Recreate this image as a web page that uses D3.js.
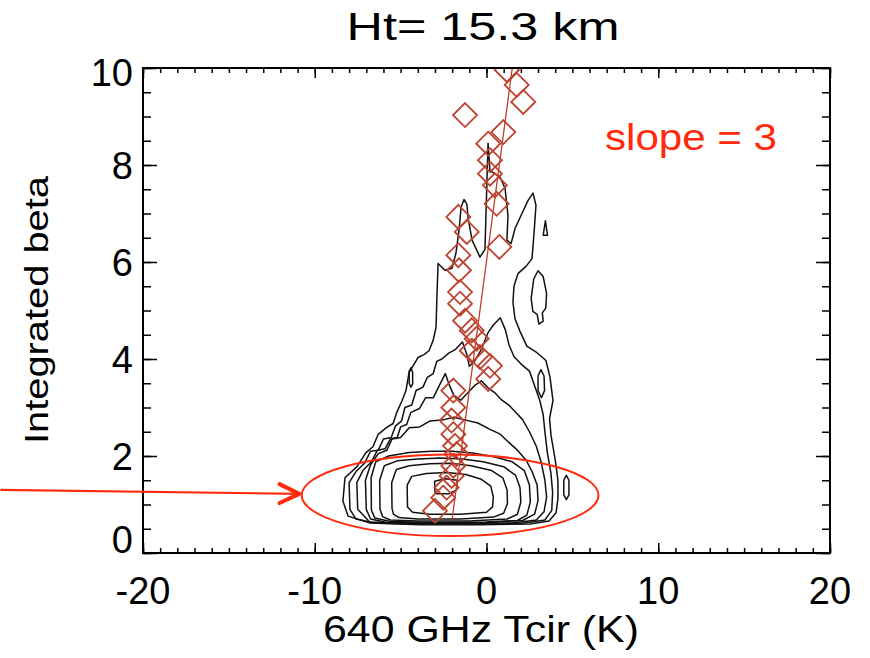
<!DOCTYPE html>
<html>
<head>
<meta charset="utf-8">
<style>
  body { margin: 0; background: #fff; }
  svg { display: block; font-family: "Liberation Sans", Arial, Helvetica, sans-serif; }
</style>
</head>
<body>
<div id="chart"></div>
<script src="https://cdn.jsdelivr.net/npm/d3@7/dist/d3.min.js"></script>
<script>
// ---- data ----
var title = "Ht= 15.3 km";
var xTitle = "640 GHz Tcir (K)";
var yTitle = "Integrated beta";
var slopeText = "slope = 3";

var xTicks = [-20, -10, 0, 10, 20];
var yTicks = [0, 2, 4, 6, 8, 10];

// diamonds: 640 GHz Tcir vs integrated beta
var pointsX = [1.18, 1.76, 2.14, -1.25, 0.98, 0.10, 0.20, 0.20, 0.49, 0.59, -1.64, -1.15, 0.75, -1.64, -1.60, -1.54, -1.54, -1.25, -0.86, -0.57, -0.86, -0.38, 0.20, 0.10, -1.93, -1.93, -2.03, -1.93, -1.83, -1.74, -1.93, -2.03, -2.32, -2.52, -3.00];
var pointsY = [9.96, 9.65, 9.30, 9.03, 8.68, 8.44, 8.10, 7.82, 7.58, 7.20, 6.93, 6.62, 6.31, 6.14, 5.83, 5.38, 5.14, 4.79, 4.59, 4.42, 4.17, 4.04, 3.86, 3.59, 3.35, 3.00, 2.73, 2.45, 2.21, 2.04, 1.80, 1.59, 1.35, 1.14, 0.87];

// fitted line (two end points)
var fitX = [-2.0, 1.5];
var fitY = [0.7, 10];

// contours of the 2D histogram, outer to inner
var contour1 = [[-8.06,0.76],[-8.36,1.07],[-8.24,1.55],[-7.54,1.78],[-7.02,2.07],[-6.61,2.19],[-6.32,2.44],[-5.85,2.58],[-5.44,2.67],[-5.21,2.91],[-4.92,3.14],[-4.69,3.35],[-4.51,3.72],[-3.99,4.03],[-3.64,4.09],[-3.35,4.17],[-3.11,4.38],[-2.94,4.65],[-2.88,5.35],[-2.82,5.97],[-2.42,5.83],[-2.01,5.87],[-1.78,6.18],[-1.6,6.65],[-1.48,7.13],[-1.31,7.29],[-1.14,7.19],[-1.08,6.92],[-0.84,6.45],[-0.38,6.1],[-0.09,6.26],[0.09,8.45],[0.2,7.89],[0.79,7.75],[1.08,7.52],[1.25,6.96],[1.19,6.45],[1.43,6.38],[1.66,6.69],[2.01,6.96],[2.42,7.27],[2.71,7.42],[2.88,7.17],[2.77,6.61],[2.65,6.07],[2.3,5.91],[1.83,5.76],[1.6,5.5],[1.54,5.17],[1.66,4.83],[1.95,4.57],[2.36,4.26],[2.94,4.13],[3.46,3.97],[3.7,3.62],[3.87,3.14],[3.67,2.77],[3.76,2.42],[3.93,2.07],[4.05,1.8],[4.16,1.49],[4.16,1.12],[4.05,0.83],[3.64,0.66],[2.53,0.6],[-0.38,0.58],[-3.87,0.58],[-6.78,0.62]];
var contour2 = [[-7.95,0.9],[-8.0,1.45],[-7.6,1.68],[-7.1,1.85],[-6.75,2.1],[-6.3,2.12],[-6.0,2.35],[-5.55,2.38],[-5.3,2.62],[-4.95,2.72],[-4.75,3.0],[-4.35,3.05],[-4.1,3.35],[-3.7,3.42],[-3.45,3.62],[-3.1,3.7],[-2.9,3.95],[-2.6,4.0],[-2.2,4.12],[-1.8,4.2],[-1.4,4.35],[-1.15,4.1],[-1.0,3.85],[-0.7,3.95],[-0.3,4.2],[0.1,4.55],[0.4,4.7],[0.8,4.85],[1.1,4.6],[1.3,4.3],[1.6,4.05],[2.0,3.9],[2.5,3.75],[2.8,3.45],[3.1,3.15],[3.3,2.85],[3.4,2.5],[3.55,2.05],[3.75,1.65],[3.85,1.25],[3.8,0.88],[3.4,0.68],[2.0,0.61],[-1.0,0.6],[-4.0,0.6],[-6.5,0.62],[-7.6,0.7]];
var contour3 = [[-7.5,0.9],[-7.55,1.45],[-7.2,1.7],[-6.7,1.88],[-6.35,2.12],[-5.9,2.15],[-5.6,2.35],[-5.2,2.38],[-5.0,2.6],[-4.65,2.65],[-4.4,2.9],[-3.9,2.98],[-3.55,3.2],[-3.1,3.2],[-2.75,3.45],[-2.4,3.7],[-2.15,3.45],[-1.9,3.25],[-1.5,3.15],[-1.1,3.3],[-0.7,3.45],[-0.3,3.55],[0.1,3.4],[0.5,3.3],[0.9,3.15],[1.3,3.05],[1.7,2.9],[2.1,2.75],[2.5,2.5],[2.9,2.2],[3.2,1.85],[3.4,1.5],[3.5,1.15],[3.35,0.85],[2.9,0.68],[1.5,0.62],[-1.5,0.61],[-4.5,0.61],[-6.8,0.64]];
var contour4 = [[-7.0,0.9],[-7.05,1.5],[-6.75,1.82],[-6.3,2.05],[-5.8,2.12],[-5.5,2.35],[-5.0,2.38],[-4.5,2.58],[-3.9,2.6],[-3.3,2.72],[-2.6,2.74],[-1.9,2.8],[-1.2,2.74],[-0.5,2.68],[0.2,2.55],[0.8,2.45],[1.3,2.28],[1.8,2.12],[2.3,1.92],[2.65,1.68],[2.95,1.4],[3.0,1.08],[2.8,0.8],[2.1,0.67],[0,0.63],[-3,0.62],[-5.8,0.63],[-6.75,0.7]];
var contour5 = [[-6.7,0.88],[-6.72,1.55],[-6.45,1.88],[-5.7,2.0],[-4.5,2.07],[-3.2,2.1],[-2.0,2.1],[-0.8,2.06],[0.5,1.98],[1.5,1.88],[2.2,1.7],[2.5,1.4],[2.55,1.05],[2.35,0.78],[1.8,0.67],[0,0.64],[-3,0.63],[-5.6,0.65],[-6.5,0.72]];
var contour6 = [[-6.2,0.9],[-6.22,1.5],[-5.95,1.8],[-5.2,1.9],[-4,1.94],[-2.7,1.96],[-1.4,1.94],[-0.2,1.88],[1.0,1.78],[1.7,1.6],[1.95,1.35],[2.0,1.05],[1.8,0.8],[1.2,0.7],[-1,0.66],[-4,0.66],[-5.6,0.68],[-6.05,0.75]];
var contour7 = [[-5.5,0.92],[-5.52,1.45],[-5.25,1.72],[-4.5,1.8],[-3.3,1.84],[-2.1,1.85],[-0.9,1.8],[0.3,1.7],[0.95,1.55],[1.2,1.3],[1.22,1.02],[1.0,0.82],[0.4,0.74],[-1.5,0.7],[-4,0.7],[-5.1,0.73],[-5.42,0.8]];
var contour8 = [[-4.6,0.95],[-4.62,1.4],[-4.35,1.58],[-3.5,1.64],[-2.3,1.66],[-1.2,1.62],[-0.3,1.52],[0.25,1.38],[0.4,1.15],[0.35,0.95],[0,0.84],[-1.5,0.8],[-3.3,0.8],[-4.3,0.84]];
var contour9 = [[-3.0,1.25],[-3.02,1.48],[-2.4,1.53],[-1.7,1.5],[-1.75,1.3],[-2.2,1.22],[-2.9,1.22]];
// small islands
var islandTear = [[2.6,5.25],[2.75,5.65],[3.0,5.82],[3.3,5.7],[3.5,5.35],[3.45,5.05],[3.25,4.95],[3.3,4.78],[3.05,4.72],[2.95,4.92],[2.7,4.98]];
var islandTri = [[3.3,6.55],[3.55,6.55],[3.43,6.85]];
var islandRight = [[3.0,3.35],[3.0,3.65],[3.17,3.78],[3.35,3.65],[3.38,3.35],[3.2,3.2]];
var islandLeft = [[-4.5,3.5],[-4.5,3.75],[-4.4,3.82],[-4.3,3.72],[-4.3,3.48],[-4.4,3.42]];
var islandLow = [[4.5,1.2],[4.5,1.5],[4.65,1.6],[4.8,1.5],[4.8,1.2],[4.65,1.1]];

var contours = [contour1, contour2, contour3, contour4, contour5, contour6, contour7, contour8, contour9,
                islandTear, islandTri, islandRight, islandLeft, islandLow];

// annotation: ellipse (centre x, centre y, radius x, radius y) and arrow
var ellipseC = [-2.12, 1.19];
var ellipseR = [8.64, 0.84];
var arrowX = [-28.3, -10.9];
var arrowY = [1.30, 1.22];
var arrowHead = [[-12.05, 1.42], [-10.9, 1.22], [-12.05, 1.03]];

// ---- layout ----
var W = 870, H = 658;
var margin = {left: 143, top: 68, right: 40, bottom: 105};
var width = W - margin.left - margin.right;
var height = H - margin.top - margin.bottom;

var svg = d3.select("#chart").append("svg")
    .attr("width", W)
    .attr("height", H);

var x = d3.scaleLinear().domain([-20, 20]).range([0, width]);
var y = d3.scaleLinear().domain([0, 10]).range([height, 0]);

var g = svg.append("g")
    .attr("transform", "translate(" + margin.left + "," + margin.top + ")");

g.append("clipPath").attr("id", "plotclip")
  .append("rect").attr("width", width).attr("height", height);

var plot = g.append("g").attr("clip-path", "url(#plotclip)");

var line = d3.line()
    .x(function(d){ return x(d[0]); })
    .y(function(d){ return y(d[1]); })
    .curve(d3.curveLinearClosed);

plot.selectAll("path.contour")
    .data(contours)
  .enter().append("path")
    .attr("class", "contour")
    .attr("d", line)
    .attr("fill", "none")
    .attr("stroke", "#111")
    .attr("stroke-width", 1.5)
    .attr("stroke-linejoin", "round");

// fitted line
plot.append("line")
    .attr("x1", x(fitX[0])).attr("y1", y(fitY[0]))
    .attr("x2", x(fitX[1])).attr("y2", y(fitY[1]))
    .attr("stroke", "#c0402c")
    .attr("stroke-width", 1.3);

// diamonds
var pts = pointsX.map(function(v, i){ return [v, pointsY[i]]; });
var dsz = 12;
plot.selectAll("path.pt")
    .data(pts)
  .enter().append("path")
    .attr("class", "pt")
    .attr("transform", function(d){ return "translate(" + x(d[0]) + "," + y(d[1]) + ")"; })
    .attr("d", "M0," + (-dsz) + "L" + dsz + ",0L0," + dsz + "L" + (-dsz) + ",0Z")
    .attr("fill", "none")
    .attr("stroke", "#bd4330")
    .attr("stroke-width", 1.8);

// ticks on all four sides, pointing inward
function ticks(axis, vals, len, tr) {
  g.append("g")
      .attr("transform", tr)
      .call(axis.tickValues(vals).tickSize(-len).tickFormat(""))
      .call(function(s){ s.select(".domain").remove(); })
      .selectAll("line").attr("stroke", "#000").attr("stroke-width", 1.5);
}
var xMinor = d3.range(-20, 20.001, 1);
var yMinor = d3.range(0, 10.001, 0.5);
ticks(d3.axisBottom(x), xMinor, 5, "translate(0," + height + ")");
ticks(d3.axisBottom(x), xTicks, 10, "translate(0," + height + ")");
ticks(d3.axisTop(x), xMinor, 5, "translate(0,0)");
ticks(d3.axisTop(x), xTicks, 10, "translate(0,0)");
ticks(d3.axisLeft(y), yMinor, 8, "translate(0,0)");
ticks(d3.axisLeft(y), yTicks, 14, "translate(0,0)");
ticks(d3.axisRight(y), yMinor, 8, "translate(" + width + ",0)");
ticks(d3.axisRight(y), yTicks, 14, "translate(" + width + ",0)");

g.append("rect")
    .attr("width", width).attr("height", height)
    .attr("fill", "none").attr("stroke", "#000").attr("stroke-width", 2);

// tick labels
g.selectAll("text.xl")
    .data(xTicks)
  .enter().append("text")
    .attr("class", "xl")
    .attr("x", function(d){ return x(d); })
    .attr("y", height + 51)
    .attr("text-anchor", "middle")
    .attr("font-size", 38)
    .text(function(d){ return d; });

g.selectAll("text.yl")
    .data(yTicks)
  .enter().append("text")
    .attr("class", "yl")
    .attr("x", -10)
    .attr("y", function(d){ return Math.max(4, Math.min(height - 14, y(d))); })
    .attr("dy", "0.36em")
    .attr("text-anchor", "end")
    .attr("font-size", 38)
    .text(function(d){ return d; });

// titles
svg.append("text")
    .attr("x", 483).attr("y", 40)
    .attr("text-anchor", "middle")
    .attr("font-size", 39)
    .attr("textLength", 273).attr("lengthAdjust", "spacingAndGlyphs")
    .text(title);

svg.append("text")
    .attr("x", 481).attr("y", 642)
    .attr("text-anchor", "middle")
    .attr("font-size", 37)
    .attr("textLength", 316).attr("lengthAdjust", "spacingAndGlyphs")
    .text(xTitle);

svg.append("text")
    .attr("transform", "translate(48,310) rotate(-90)")
    .attr("text-anchor", "middle")
    .attr("font-size", 34)
    .attr("textLength", 268).attr("lengthAdjust", "spacingAndGlyphs")
    .text(yTitle);

// annotation in red
var red = "#ff2a0c";
g.append("text")
    .attr("x", 605 - margin.left).attr("y", 150 - margin.top)
    .attr("font-size", 36)
    .attr("fill", red)
    .attr("textLength", 172).attr("lengthAdjust", "spacingAndGlyphs")
    .text(slopeText);

g.append("ellipse")
    .attr("cx", x(ellipseC[0])).attr("cy", y(ellipseC[1]))
    .attr("rx", x(ellipseC[0] + ellipseR[0]) - x(ellipseC[0]))
    .attr("ry", y(ellipseC[1] - ellipseR[1]) - y(ellipseC[1]))
    .attr("fill", "none").attr("stroke", red).attr("stroke-width", 2);

g.append("line")
    .attr("x1", x(arrowX[0])).attr("y1", y(arrowY[0]))
    .attr("x2", x(arrowX[1])).attr("y2", y(arrowY[1]))
    .attr("stroke", red).attr("stroke-width", 2.2);

g.append("path")
    .attr("d", d3.line().x(function(d){ return x(d[0]); }).y(function(d){ return y(d[1]); })(arrowHead))
    .attr("fill", "none").attr("stroke", red).attr("stroke-width", 4)
    .attr("stroke-linecap", "round").attr("stroke-linejoin", "round");
</script>
</body>
</html>
